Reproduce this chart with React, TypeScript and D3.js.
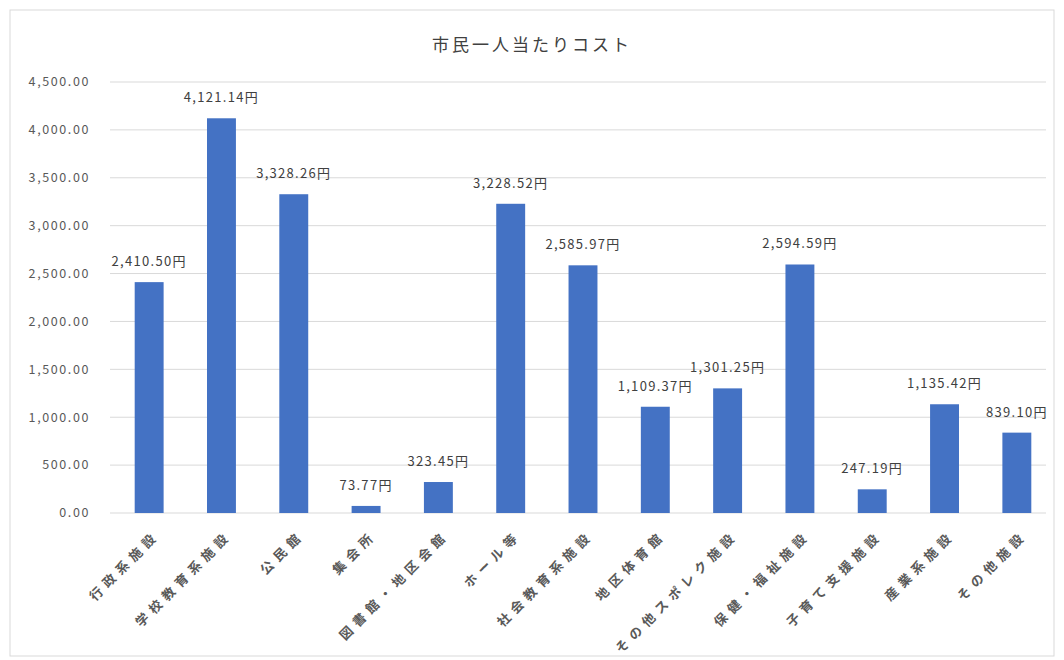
import React from 'react';
import * as d3 from 'd3';

const categories = [
  '行政系施設', '学校教育系施設', '公民館', '集会所', '図書館・地区会館', 'ホール等',
  '社会教育系施設', '地区体育館', 'その他スポレク施設', '保健・福祉施設', '子育て支援施設',
  '産業系施設', 'その他施設',
];
const values = [
  2410.50, 4121.14, 3328.26, 73.77, 323.45, 3228.52, 2585.97,
  1109.37, 1301.25, 2594.59, 247.19, 1135.42, 839.10,
];
const yTicks = [0, 500, 1000, 1500, 2000, 2500, 3000, 3500, 4000, 4500];
const title = '市民一人当たりコスト';

const W = 1064, H = 660;
const margin = { top: 82, right: 18, bottom: 147, left: 110 };
const font = '"Noto Sans CJK JP", "Noto Sans", sans-serif';

const App: React.FC = () => {
  const innerW = W - margin.left - margin.right;
  const innerH = H - margin.top - margin.bottom;
  const x = d3.scaleBand().domain(categories).range([3, 943]).paddingInner(0.6).paddingOuter(0.3);
  const y = d3.scaleLinear().domain([0, 4500]).range([innerH, 0]);
  const fmt = d3.format(',.2f');

  return (
    <svg width={W} height={H} style={{ position: 'absolute', left: 0, top: 0, background: '#fff' }}>
      <rect x={10} y={10} width={W - 20} height={H - 14} fill="#fff" stroke="#d9d9d9" />
      <text x={532} y={51} textAnchor="middle" fontFamily={font} fontSize={17} letterSpacing={3} fill="#404040">{title}</text>
      <g transform={`translate(${margin.left},${margin.top})`}>
        {yTicks.map(t => (
          <g key={t}>
            <line x1={0} x2={innerW} y1={y(t)} y2={y(t)} stroke="#d9d9d9" />
            <text x={-20} y={y(t)} dy="0.35em" textAnchor="end" fontFamily={font} fontSize={12.5} letterSpacing={1.6} fill="#595959">{fmt(t)}</text>
          </g>
        ))}
        {categories.map((c, i) => {
          const bx = x(c) ?? 0;
          const cx = bx + x.bandwidth() / 2;
          return (
            <g key={c}>
              <rect x={bx} y={y(values[i])} width={x.bandwidth()} height={innerH - y(values[i])} fill="#4472c4" />
              <text x={cx} y={y(values[i]) - 16} textAnchor="middle" fontFamily={font} fontSize={13} letterSpacing={1.3} fill="#404040">{fmt(values[i])}円</text>
              <text transform={`translate(${cx + 8},${innerH + 20}) rotate(-45)`} textAnchor="end" dy="0.35em" fontFamily={font} fontSize={13} letterSpacing={5.5} fontWeight={700} fill="#595959">{c}</text>
            </g>
          );
        })}
      </g>
    </svg>
  );
};

export default App;
